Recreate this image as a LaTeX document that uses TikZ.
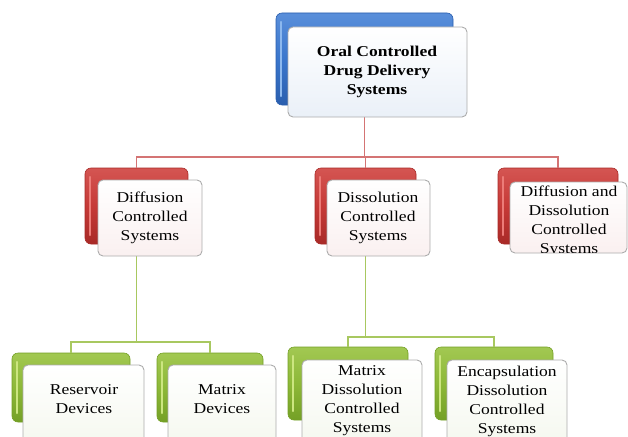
\documentclass[tikz,border=0pt]{standalone}
\usepackage{fontspec}
\setmainfont{Liberation Serif}[FakeStretch=1.17]
\definecolor{blueBase}{HTML}{3A76CC}
\definecolor{blueDark}{HTML}{2A5EAE}
\definecolor{blueTop}{HTML}{5A8FDA}
\definecolor{blueLight}{HTML}{8CB8EE}
\definecolor{redBase}{HTML}{C63A37}
\definecolor{redDark}{HTML}{A82A27}
\definecolor{redTop}{HTML}{D45552}
\definecolor{redLight}{HTML}{EC7C78}
\definecolor{greenBase}{HTML}{8DB838}
\definecolor{greenDark}{HTML}{74A026}
\definecolor{greenTop}{HTML}{A2C852}
\definecolor{greenLight}{HTML}{CCE680}
\definecolor{redWire}{HTML}{D47474}
\definecolor{greenWire}{HTML}{A8C860}
\definecolor{tintBlue}{HTML}{EAF0F8}
\definecolor{tintRed}{HTML}{FAF0F0}
\definecolor{tintGreen}{HTML}{F5F8EF}
\tikzset{
  backbox/.style n args={4}{rounded corners=6pt, inner sep=0pt,
    top color=#3, bottom color=#2, middle color=#1, draw=#2, line width=0.6pt,
    path picture={\draw[#4, line width=2.2pt, line cap=round]
      ([xshift=5pt,yshift=-9pt]path picture bounding box.north west) --
      ([xshift=5pt,yshift=9pt]path picture bounding box.south west);}},
  bluebox/.style={backbox={blueBase}{blueDark}{blueTop}{blueLight}},
  redbox/.style={backbox={redBase}{redDark}{redTop}{redLight}},
  greenbox/.style={backbox={greenBase}{greenDark}{greenTop}{greenLight}},
  frontbox/.style={rounded corners=5pt, inner sep=0pt, draw=gray!65,
    line width=0.9pt, top color=white, bottom color=#1},
  label/.style={align=center, inner sep=0pt, font=\fontsize{15}{19}\selectfont},
  redline/.style={draw=redWire, line width=1.8pt},
  greenline/.style={draw=greenWire, line width=1.8pt},
}
\begin{document}
\begin{tikzpicture}[x=1pt,y=-1pt]
\useasboundingbox (0,0) rectangle (628,436);
\clip (0,0) rectangle (628,436);

% back panels
\node[bluebox, minimum width=177pt, minimum height=92pt] (topB) at (364.5,59) {};
\node[redbox, minimum width=103pt, minimum height=76pt] (d1B) at (136.5,206) {};
\node[redbox, minimum width=101pt, minimum height=76pt] (d2B) at (365.5,206) {};
\node[redbox, minimum width=120pt, minimum height=76pt] (d3B) at (558,206) {};
\node[greenbox, minimum width=118pt, minimum height=69pt] (l1B) at (71,387.5) {};
\node[greenbox, minimum width=106pt, minimum height=69pt] (l2B) at (210,387.5) {};
\node[greenbox, minimum width=120pt, minimum height=73pt] (m1B) at (348,383.5) {};
\node[greenbox, minimum width=118pt, minimum height=73pt] (m2B) at (494,383.5) {};

% bus levels
\coordinate (busR) at (0,157);
\coordinate (busG1) at (0,342);
\coordinate (busG2) at (0,337);

% connectors (drawn under the front panels)
\draw[redline] (topB.south) -- (topB.south |- busR);
\draw[redline] (d1B.north) |- (busR -| d3B.north) -- (d3B.north);
\draw[redline] (d2B.north) -- (d2B.north |- busR);
\draw[greenline] (d1B.south) -- (d1B.south |- busG1);
\draw[greenline] (l1B.north) |- (busG1 -| l2B.north) -- (l2B.north);
\draw[greenline] (d2B.south) -- (d2B.south |- busG2);
\draw[greenline] (m1B.north) |- (busG2 -| m2B.north) -- (m2B.north);

% front panels
\node[frontbox=tintBlue, minimum width=179pt, minimum height=90pt] (topF) at (377.5,72) {};
\node[frontbox=tintRed, minimum width=104pt, minimum height=76pt] (d1F) at (150,218) {};
\node[frontbox=tintRed, minimum width=103pt, minimum height=76pt] (d2F) at (378.5,218) {};
\node[frontbox=tintRed, minimum width=117pt, minimum height=71pt] (d3F) at (568.5,217.5) {};
\node[frontbox=tintGreen, minimum width=121pt, minimum height=80pt] (l1F) at (83.5,405) {};
\node[frontbox=tintGreen, minimum width=108pt, minimum height=80pt] (l2F) at (222,405) {};
\node[frontbox=tintGreen, minimum width=120pt, minimum height=85pt] (m1F) at (362,402.5) {};
\node[frontbox=tintGreen, minimum width=120pt, minimum height=85pt] (m2F) at (507,402.5) {};

% labels
\node[label, font=\fontsize{15}{19}\selectfont\bfseries] (topT) at (377,72)
  {Oral Controlled\\Drug Delivery\\Systems};
\node[label] (d1T) at (150,218) {Diffusion\\Controlled\\Systems};
\node[label] (d2T) at (378,218) {Dissolution\\Controlled\\Systems};
\node[label] (l1T) at (84,399) {Reservoir\\Devices};
\node[label] (l2T) at (222,399) {Matrix\\Devices};
% four-line labels are cut off by their panel edges
\begin{scope}
  \clip (d3F.north west) rectangle ([yshift=1pt]d3F.south east);
  \node[label] (d3T) at (569,221) {Diffusion and\\Dissolution\\Controlled\\Systems};
\end{scope}
\begin{scope}
  \clip (m1F.north west) rectangle (m1F.south east);
  \node[label] (m1T) at (362,401) {Matrix\\Dissolution\\Controlled\\Systems};
\end{scope}
\begin{scope}
  \clip (m2F.north west) rectangle (m2F.south east);
  \node[label] (m2T) at (507,401) {Encapsulation\\Dissolution\\Controlled\\Systems};
\end{scope}
\end{tikzpicture}
\end{document}
